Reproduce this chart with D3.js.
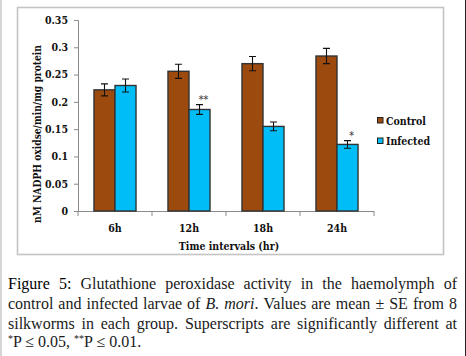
<!DOCTYPE html>
<html><head><meta charset="utf-8">
<script src="https://cdn.jsdelivr.net/npm/d3@7"></script>
<style>
html,body{margin:0;padding:0;background:#fff;}
svg{display:block;}
</style></head>
<body>
<svg id="chart" width="466" height="356"></svg>
<script>
const categories = ["6h", "12h", "18h", "24h"];
const seriesNames = ["Control", "Infected"];
const control = [0.222, 0.256, 0.270, 0.284];
const infected = [0.230, 0.186, 0.155, 0.122];
const controlSE = [0.011, 0.013, 0.013, 0.014];
const infectedSE = [0.012, 0.009, 0.008, 0.007];
const significance = ["", "**", "", "*"];
const yTicks = [0, 0.05, 0.1, 0.15, 0.2, 0.25, 0.3, 0.35];
const yTitle = "nM NADPH oxidse/min/mg protein";
const xTitle = "Time intervals (hr)";
const captionLines = [
  [{t:"Figure 5:", s:"fig"}, {t:"Glutathione peroxidase activity in the haemolymph of"}],
  [{t:"control and infected larvae of"}, {t:"B. mori", s:"it"}, {t:". Values are mean ± SE from 8", glue:true}],
  [{t:"silkworms in each group. Superscripts are significantly different at"}]
];

const colors = ["#9C4A0E", "#00BDF7"];
const svg = d3.select("#chart");
const chartFont = "'DejaVu Serif Condensed', 'DejaVu Serif', serif";
const capFont = "'Liberation Serif', 'Times New Roman', serif";

// page edges and frame
svg.append("line").attr("x1",1).attr("x2",1).attr("y1",0).attr("y2",356).attr("stroke","#c8c8c8").attr("stroke-width",1.5);
svg.append("line").attr("x1",465.5).attr("x2",465.5).attr("y1",0).attr("y2",356).attr("stroke","#222").attr("stroke-width",1);
svg.append("rect").attr("x",17.5).attr("y",7.5).attr("width",426).attr("height",247)
  .attr("fill","#fff").attr("stroke","#c4c4c4").attr("stroke-width",1.6);

const x = d3.scaleBand().domain(categories).range([78, 374]).paddingInner(0.432).paddingOuter(0.216);
const xs = d3.scaleBand().domain(seriesNames).range([0, x.bandwidth()]);
const y = d3.scaleLinear().domain([0, 0.35]).range([211, 20]);
const step = x.step();
const axisColor = "#8a8a8a";

// Y axis
const yAxis = svg.append("g").attr("transform","translate(78,0)")
  .call(d3.axisLeft(y).tickValues(yTicks).tickSize(4).tickPadding(6)
    .tickFormat(d => String(+d.toFixed(2))));
yAxis.select(".domain").attr("stroke", axisColor);
yAxis.selectAll(".tick line").attr("stroke", axisColor);
yAxis.selectAll("text").attr("font-family", chartFont).attr("font-weight","bold")
  .attr("font-size", 10.5).attr("fill","#111");

// X axis line and boundary ticks
svg.append("line").attr("x1",78).attr("x2",374).attr("y1",y(0)+0.5).attr("y2",y(0)+0.5).attr("stroke",axisColor);
const bounds = categories.map(c => x(c) - step*x.paddingInner()/2).concat([374]);
svg.selectAll(".xt").data(bounds).enter().append("line")
  .attr("x1", d=>d).attr("x2", d=>d).attr("y1", y(0)).attr("y2", y(0)+5).attr("stroke",axisColor);
svg.selectAll(".xl").data(categories).enter().append("text")
  .attr("x", d => x(d) + x.bandwidth()/2).attr("y", 231.5)
  .attr("text-anchor","middle").attr("font-family",chartFont).attr("font-weight","bold")
  .attr("font-size",10.5).attr("fill","#111").text(d=>d);

// titles
svg.append("text").attr("x",229).attr("y",250).attr("text-anchor","middle")
  .attr("font-family",chartFont).attr("font-weight","bold").attr("font-size",10.5).attr("fill","#111").text(xTitle);
svg.append("text").attr("transform","translate(40.5,134) rotate(-90)").attr("text-anchor","middle")
  .attr("font-family",chartFont).attr("font-weight","bold").attr("font-size",10.2).attr("fill","#111").text(yTitle);

// bars
const data = categories.map((c,i) => ({c, vals:[
  {s:"Control", v:control[i], e:controlSE[i]},
  {s:"Infected", v:infected[i], e:infectedSE[i]}], sig: significance[i]}));
const groups = svg.selectAll(".grp").data(data).enter().append("g")
  .attr("transform", d => `translate(${x(d.c)},0)`);
groups.selectAll("rect").data(d=>d.vals).enter().append("rect")
  .attr("x", d => xs(d.s)).attr("width", xs.bandwidth())
  .attr("y", d => y(d.v)).attr("height", d => y(0) - y(d.v))
  .attr("fill", (d,i) => colors[i]).attr("stroke","#333").attr("stroke-width",1.4);
// error bars
groups.selectAll(".err").data(d=>d.vals).enter().append("path")
  .attr("d", d => {
    const cx = xs(d.s) + xs.bandwidth()/2, cw = 3.5;
    const t = y(d.v + d.e), b = y(d.v - d.e);
    return `M${cx},${t}V${b}M${cx-cw},${t}H${cx+cw}M${cx-cw},${b}H${cx+cw}`;
  }).attr("stroke","#111").attr("stroke-width",1.1).attr("fill","none");
// significance marks
groups.filter(d => d.sig).append("text")
  .attr("x", d => xs("Infected") + xs.bandwidth()/2 + 4)
  .attr("y", d => y(d.vals[1].v + d.vals[1].e) - 2)
  .attr("text-anchor","middle").attr("font-family",chartFont).attr("font-size",10.5)
  .attr("fill","#333").text(d=>d.sig);

// legend
const leg = svg.selectAll(".leg").data(seriesNames).enter().append("g")
  .attr("transform",(d,i)=>`translate(377.5,${117.5 + i*20.5})`);
leg.append("rect").attr("width",5.5).attr("height",5.5).attr("fill",(d,i)=>colors[i])
  .attr("stroke","#222").attr("stroke-width",1);
leg.append("text").attr("x",8.5).attr("y",7).attr("font-family",chartFont).attr("font-weight","bold")
  .attr("font-size",10.5).attr("fill","#111").text(d=>d);

// caption (justified)
const capSize = 16, capLeft = 8, capRight = 457;
const baselines = [289, 309, 328.5, 347];
const meas = svg.append("text").attr("font-family",capFont).attr("font-size",capSize).attr("visibility","hidden");
function widthOf(t, s){
  meas.attr("font-style", s==="it" ? "italic" : "normal").text(t);
  return meas.node().getComputedTextLength();
}
captionLines.forEach((segs, li) => {
  const tokens = [];
  segs.forEach(seg => {
    seg.t.split(" ").forEach((w, wi) => {
      const piece = {t:w, s:seg.s};
      if (seg.glue && wi === 0) tokens[tokens.length-1].push(piece);
      else tokens.push([piece]);
    });
  });
  const widths = tokens.map(tok => d3.sum(tok, p => widthOf(p.t, p.s)));
  const gap = (capRight - capLeft - d3.sum(widths)) / (tokens.length - 1);
  let cx = capLeft;
  const txt = svg.append("text").attr("y", baselines[li]).attr("font-family",capFont)
    .attr("font-size",capSize).attr("fill","#1a1a1a");
  tokens.forEach((tok, ti) => {
    let px = cx;
    tok.forEach(p => {
      txt.append("tspan").attr("x", px).attr("font-style", p.s==="it" ? "italic" : null)
        .attr("fill", p.s==="fig" ? "#000" : null).text(p.t);
      px += widthOf(p.t, p.s);
    });
    cx += widths[ti] + gap;
  });
});
meas.remove();
const last = svg.append("text").attr("x",capLeft).attr("y",baselines[3]).attr("font-family",capFont)
  .attr("font-size",capSize).attr("fill","#1a1a1a");
const lastParts = [["*",true],["P ≤ 0.05, ",false],["**",true],["P ≤ 0.01.",false]];
lastParts.forEach(([t,sup]) => {
  last.append("tspan").attr("font-size", sup ? 10 : null).attr("baseline-shift", sup ? "super" : null).text(t);
});
</script>
</body></html>
